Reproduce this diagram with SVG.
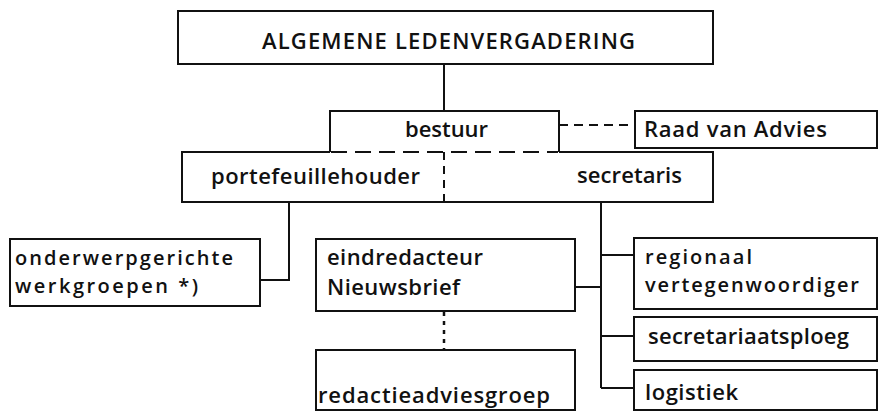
<svg xmlns="http://www.w3.org/2000/svg" width="879" height="412" viewBox="0 0 879 412">
<style>
.box{fill:#fff;stroke:#111;stroke-width:2}
.ln{fill:none;stroke:#111;stroke-width:2}
.dash{fill:none;stroke:#111;stroke-width:2;stroke-dasharray:16 8}
.dashv{fill:none;stroke:#111;stroke-width:2;stroke-dasharray:8 6}
.dashr{fill:none;stroke:#111;stroke-width:2;stroke-dasharray:9 6}
.dot{fill:none;stroke:#111;stroke-width:2.5;stroke-dasharray:4 5}
text{font-family:"Open Sans","DejaVu Sans",sans-serif;font-size:22px;font-weight:600;fill:#111}
text.two{font-size:20px}
</style>
<rect width="879" height="412" fill="#fff"/>
<g id="connectors">
<line class="ln" x1="444" y1="64" x2="444" y2="111"/>
<line class="dashr" x1="559" y1="125" x2="635" y2="125"/>
<polyline class="ln" points="289,202 289,280 260,280"/>
<line class="ln" x1="601" y1="202" x2="601" y2="388"/>
<line class="ln" x1="575" y1="287" x2="601" y2="287"/>
<line class="ln" x1="601" y1="255" x2="634" y2="255"/>
<line class="ln" x1="601" y1="336" x2="634" y2="336"/>
<line class="ln" x1="601" y1="388" x2="634" y2="388"/>
<line class="dot" x1="444" y1="312" x2="444" y2="350"/>
</g>
<g id="algemene-ledenvergadering">
<rect class="box" x="178" y="11" width="535" height="53"/>
<text x="262" y="49" textLength="373" lengthAdjust="spacing">ALGEMENE LEDENVERGADERING</text>
</g>
<g id="portefeuillehouder-secretaris">
<polyline class="ln" points="330,152 182,152 182,202 713,202 713,152 559,152"/>
<line class="dashv" x1="444" y1="152" x2="444" y2="202"/>
<text x="211" y="184" textLength="209" lengthAdjust="spacing">portefeuillehouder</text>
<text x="577" y="183" textLength="105" lengthAdjust="spacing">secretaris</text>
</g>
<g id="bestuur">
<polyline class="ln" points="330,152 330,111 559,111 559,152"/>
<line class="dash" x1="331" y1="152" x2="558" y2="152"/>
<text x="405" y="137" textLength="83" lengthAdjust="spacing">bestuur</text>
</g>
<g id="raad-van-advies">
<rect class="box" x="635" y="111" width="242" height="37"/>
<text x="644" y="137" textLength="183" lengthAdjust="spacing">Raad van Advies</text>
</g>
<g id="onderwerpgerichte-werkgroepen">
<rect class="box" x="10" y="239" width="250" height="67"/>
<text class="two" x="15" y="265" textLength="218" lengthAdjust="spacing">onderwerpgerichte</text>
<text class="two" x="15" y="293" textLength="183" lengthAdjust="spacing">werkgroepen *)</text>
</g>
<g id="eindredacteur-nieuwsbrief">
<rect class="box" x="316" y="239" width="259" height="72"/>
<text x="327" y="265" textLength="156" lengthAdjust="spacing">eindredacteur</text>
<text x="327" y="295" textLength="133" lengthAdjust="spacing">Nieuwsbrief</text>
</g>
<g id="redactieadviesgroep">
<rect class="box" x="316" y="350" width="259" height="60"/>
<text x="318" y="403" textLength="232" lengthAdjust="spacing">redactieadviesgroep</text>
</g>
<g id="regionaal-vertegenwoordiger">
<rect class="box" x="634" y="238" width="243" height="71"/>
<text class="two" x="645" y="264" textLength="107" lengthAdjust="spacing">regionaal</text>
<text class="two" x="645" y="292" textLength="214" lengthAdjust="spacing">vertegenwoordiger</text>
</g>
<g id="secretariaatsploeg">
<rect class="box" x="634" y="317" width="243" height="44"/>
<text x="648" y="344" textLength="201" lengthAdjust="spacing">secretariaatsploeg</text>
</g>
<g id="logistiek">
<rect class="box" x="634" y="370" width="243" height="40"/>
<text x="645" y="400" textLength="93" lengthAdjust="spacing">logistiek</text>
</g>
</svg>
